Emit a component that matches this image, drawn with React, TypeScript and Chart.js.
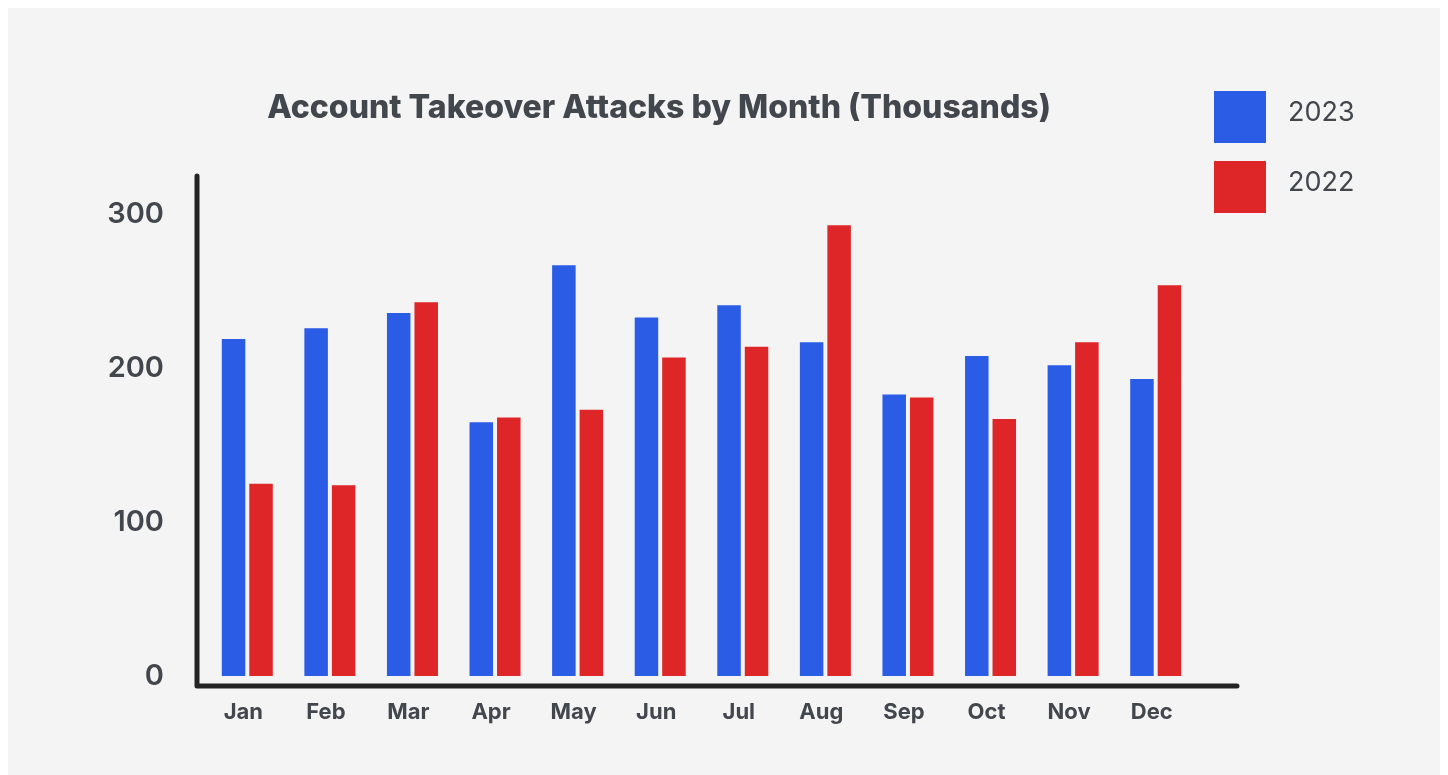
import React, { useEffect, useRef } from "react";
import { Chart, registerables } from "chart.js";

Chart.register(...registerables);

const months = ["Jan", "Feb", "Mar", "Apr", "May", "Jun", "Jul", "Aug", "Sep", "Oct", "Nov", "Dec"];
const attacks2023 = [219, 226, 236, 165, 267, 233, 241, 217, 183, 208, 202, 193];
const attacks2022 = [125, 124, 243, 168, 173, 207, 214, 293, 181, 167, 217, 254];
const yTicks = [0, 100, 200, 300];
const titleText = "Account Takeover Attacks by Month (Thousands)";

const BLUE = "#2a5ce6";
const RED = "#de2527";
const TEXT = "#42474e";
const AXIS = "#242424";
const FONT = "Inter, 'Noto Sans', sans-serif";

const W = 1440;
const H = 767;

const decorPlugin = {
  id: "decor",
  beforeDatasetsDraw(chart: any) {
    const { ctx, chartArea } = chart;
    ctx.save();
    ctx.strokeStyle = AXIS;
    ctx.lineWidth = 5;
    ctx.lineCap = "round";
    ctx.lineJoin = "round";
    ctx.beginPath();
    ctx.moveTo(chartArea.left - 9, chartArea.top);
    ctx.lineTo(chartArea.left - 9, chartArea.bottom + 10);
    ctx.lineTo(chartArea.right + 40, chartArea.bottom + 10);
    ctx.stroke();
    ctx.restore();
  },
  afterDraw(chart: any) {
    const { ctx, chartArea } = chart;
    ctx.save();
    // title
    ctx.fillStyle = TEXT;
    ctx.font = `800 32px ${FONT}`;
    ctx.textAlign = "center";
    ctx.textBaseline = "alphabetic";
    ctx.fillText(titleText, chartArea.left + 453, chartArea.top - 58);
    // legend
    const items = chart.data.datasets;
    ctx.textAlign = "left";
    ctx.font = `400 27px ${FONT}`;
    items.forEach((ds: any, i: number) => {
      const bx = chartArea.right + 17;
      const by = chartArea.top - 85 + i * 70;
      ctx.fillStyle = ds.backgroundColor;
      ctx.fillRect(bx, by, 52, 52);
      ctx.fillStyle = TEXT;
      ctx.fillText(ds.label, bx + 74, by + 30);
    });
    ctx.restore();
  },
};

export default function App() {
  const ref = useRef<HTMLCanvasElement>(null);
  useEffect(() => {
    if (!ref.current) return;
    const chart = new Chart(ref.current, {
      type: "bar",
      data: {
        labels: months,
        datasets: [
          { label: "2023", data: attacks2023, backgroundColor: BLUE, borderWidth: 0 },
          { label: "2022", data: attacks2022, backgroundColor: RED, borderWidth: 0 },
        ],
      },
      options: {
        responsive: false,
        animation: false,
        events: [],
        datasets: {
          bar: { barPercentage: 0.855, categoryPercentage: 0.666 },
        },
        layout: { padding: { left: 0, right: 251, top: 168, bottom: 0 } },
        plugins: {
          legend: { display: false },
          title: { display: false },
          tooltip: { enabled: false },
        },
        scales: {
          x: {
            grid: { display: false, drawTicks: false },
            border: { display: false },
            ticks: {
              color: TEXT,
              padding: 23,
              labelOffset: -4,
              font: { family: FONT, size: 22, weight: "700" as any },
            },
            afterFit(scale: any) {
              scale.height = H - 668;
            },
          },
          y: {
            min: 0,
            max: 325,
            grid: { display: false, drawTicks: false },
            border: { display: false },
            afterBuildTicks(scale: any) {
              scale.ticks = yTicks.map((v) => ({ value: v }));
            },
            ticks: {
              color: TEXT,
              padding: 42,
              includeBounds: false,
              font: { family: FONT, size: 29, weight: "600" as any },
            },
            afterFit(scale: any) {
              scale.width = 198;
            },
          },
        },
      },
      plugins: [decorPlugin],
    });
    return () => chart.destroy();
  }, []);

  return (
    <div style={{ width: W, height: H, background: "#f4f4f4" }}>
      <style>{"body{overflow:hidden}"}</style>
      <canvas ref={ref} width={W} height={H} style={{ display: "block" }} />
    </div>
  );
}
